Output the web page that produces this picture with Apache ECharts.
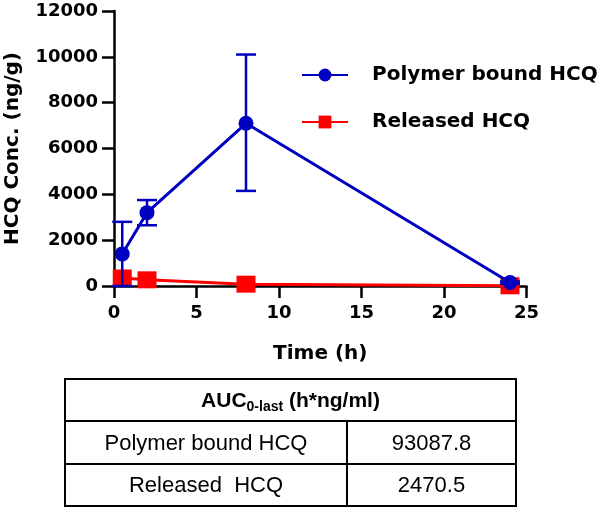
<!DOCTYPE html>
<html><head><meta charset="utf-8">
<script src="https://cdn.jsdelivr.net/npm/echarts@6/dist/echarts.min.js"></script>
<style>html,body{margin:0;padding:0;background:#fff}#c{width:600px;height:510px}</style>
</head><body><div id="c"></div>
<script>
const timePoints = [0.5, 2, 8, 24];
const polymerMean = [1400, 3200, 7100, 150];
const polymerLow = [0, 2650, 4150, 100];
const polymerHigh = [2800, 3750, 10100, 200];
const releasedMean = [350, 270, 80, 10];
const seriesNames = ['Polymer bound HCQ', 'Released HCQ'];
const xTicks = [0, 5, 10, 15, 20, 25];
const yTicks = [0, 2000, 4000, 6000, 8000, 10000, 12000];
const tableHeader = ['AUC', '0-last', ' (h*ng/ml)'];
const tableRows = [['Polymer bound HCQ', '93087.8'], ['Released  HCQ', '2470.5']];

const CFONT = 'DejaVu Sans, sans-serif';
const TFONT = 'Liberation Sans, Arial, sans-serif';
const chart = echarts.init(document.getElementById('c'), null, {renderer: 'canvas'});

const errData = timePoints.map((t, i) => [t, polymerLow[i], polymerHigh[i]]);

// table geometry
const tL = 65, tR = 516, tTop = 379, tMid1 = 421, tMid2 = 464, tBot = 506, tCol = 347;
const lw = 2;
const tableGraphics = [
  {type: 'rect', shape: {x: tL, y: tTop, width: tR - tL, height: tBot - tTop}, style: {fill: 'none', stroke: '#000', lineWidth: lw}},
  {type: 'line', shape: {x1: tL, y1: tMid1, x2: tR, y2: tMid1}, style: {stroke: '#000', lineWidth: lw}},
  {type: 'line', shape: {x1: tL, y1: tMid2, x2: tR, y2: tMid2}, style: {stroke: '#000', lineWidth: lw}},
  {type: 'line', shape: {x1: tCol, y1: tMid1, x2: tCol, y2: tBot}, style: {stroke: '#000', lineWidth: lw}},
  {type: 'text', x: (tL + tR) / 2, y: (tTop + tMid1) / 2 + 1, style: {
    text: '{a|' + tableHeader[0] + '}{s|' + tableHeader[1] + '}{a|' + tableHeader[2] + '}',
    align: 'center', verticalAlign: 'middle',
    rich: {
      a: {fontFamily: TFONT, fontWeight: 'bold', fontSize: 21, fill: '#000', verticalAlign: 'middle'},
      s: {fontFamily: TFONT, fontWeight: 'bold', fontSize: 14, fill: '#000', padding: [13, 0, 0, 0]}
    }
  }}
];
tableRows.forEach((r, i) => {
  const yc = (i === 0 ? (tMid1 + tMid2) / 2 : (tMid2 + tBot) / 2) + 1;
  tableGraphics.push({type: 'text', x: (tL + tCol) / 2, y: yc, style: {text: r[0], align: 'center', verticalAlign: 'middle', fontFamily: TFONT, fontSize: 22, fill: '#000'}});
  tableGraphics.push({type: 'text', x: (tCol + tR) / 2, y: yc, style: {text: r[1], align: 'center', verticalAlign: 'middle', fontFamily: TFONT, fontSize: 22, fill: '#000'}});
});

chart.setOption({
  animation: false,
  backgroundColor: '#fff',
  grid: {left: 114, top: 11, right: 73.5, bottom: 224, containLabel: false, outerBoundsMode: 'none'},
  legend: {
    orient: 'vertical', left: 296, top: 60, itemGap: 27, itemWidth: 46, itemHeight: 16,
    data: seriesNames,
    textStyle: {fontFamily: CFONT, fontWeight: 'bold', fontSize: 20, lineHeight: 20, color: '#000', padding: [0, 0, 0, 19]}
  },
  xAxis: {
    type: 'value', min: xTicks[0], max: xTicks[xTicks.length - 1], interval: 5,
    name: 'Time (h)', nameLocation: 'middle', nameGap: 58,
    nameTextStyle: {fontFamily: CFONT, fontWeight: 'bold', fontSize: 20, color: '#000'},
    axisLine: {lineStyle: {color: '#000', width: 2.5}},
    axisTick: {show: true, length: 12, lineStyle: {color: '#000', width: 2.5}},
    axisLabel: {fontFamily: CFONT, fontWeight: 'bold', fontSize: 18, color: '#000', margin: 18},
    splitLine: {show: false}
  },
  yAxis: {
    type: 'value', min: yTicks[0], max: yTicks[yTicks.length - 1], interval: 2000,
    name: 'HCQ Conc. (ng/g)', nameLocation: 'middle', nameGap: 91, nameRotate: 90,
    nameTextStyle: {fontFamily: CFONT, fontWeight: 'bold', fontSize: 20, color: '#000'},
    axisLine: {show: true, lineStyle: {color: '#000', width: 2.5}},
    axisTick: {show: true, length: 12, lineStyle: {color: '#000', width: 2.5}},
    axisLabel: {fontFamily: CFONT, fontWeight: 'bold', fontSize: 18, color: '#000', margin: 16,
      formatter: function (v) { return String(v); }},
    splitLine: {show: false}
  },
  series: [
    {
      name: seriesNames[1], type: 'line', data: timePoints.map((t, i) => [t, releasedMean[i]]),
      symbol: 'rect', symbolSize: [19, 17], color: '#ff0000',
      lineStyle: {color: '#ff0000', width: 3}, itemStyle: {color: '#ff0000'}, z: 2
    },
    {
      name: 'err', type: 'custom', data: errData, z: 3,
      renderItem: function (params, api) {
        const x = api.value(0);
        const lo = api.coord([x, api.value(1)]);
        const hi = api.coord([x, api.value(2)]);
        const hw = 10;
        const st = {stroke: '#0000c0', lineWidth: 2.5};
        return {type: 'group', children: [
          {type: 'line', shape: {x1: lo[0], y1: lo[1], x2: hi[0], y2: hi[1]}, style: st},
          {type: 'line', shape: {x1: hi[0] - hw, y1: hi[1], x2: hi[0] + hw, y2: hi[1]}, style: st},
          {type: 'line', shape: {x1: lo[0] - hw, y1: lo[1], x2: lo[0] + hw, y2: lo[1]}, style: st}
        ]};
      }
    },
    {
      name: seriesNames[0], type: 'line', data: timePoints.map((t, i) => [t, polymerMean[i]]),
      symbol: 'circle', symbolSize: 15, color: '#0000c0',
      lineStyle: {color: '#0000c0', width: 3}, itemStyle: {color: '#0000c0'}, z: 4
    }
  ],
  graphic: tableGraphics
});
</script></body></html>
